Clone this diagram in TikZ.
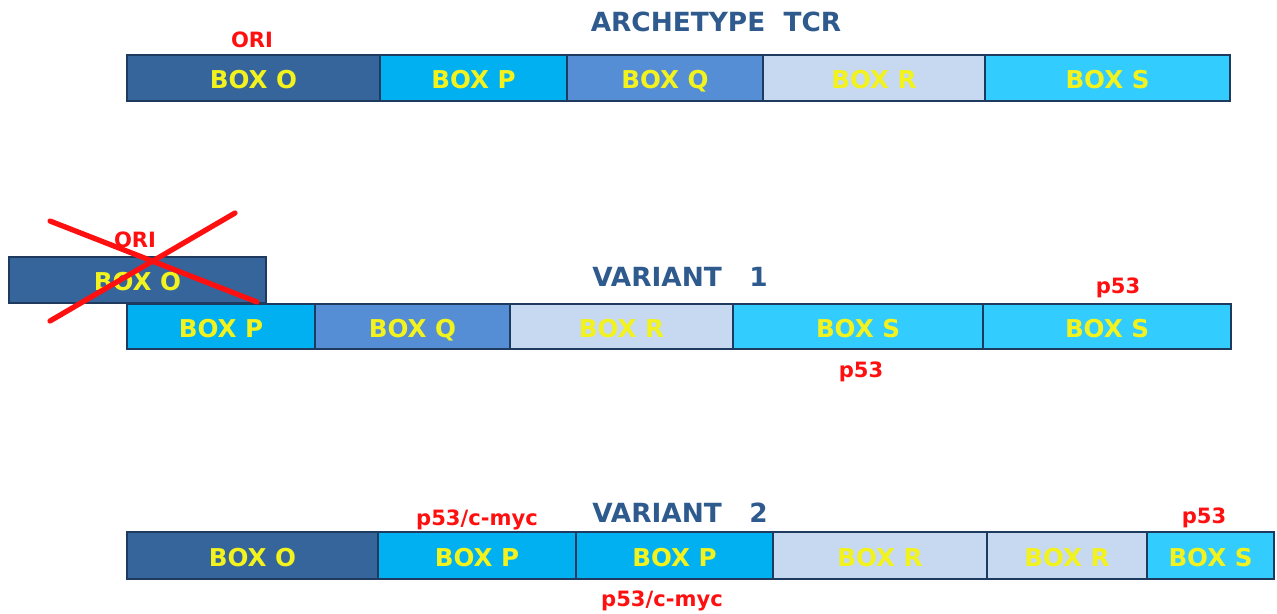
\documentclass[tikz,border=0pt]{standalone}
\usepackage{fontspec}
\setmainfont{DejaVu Sans}
\usetikzlibrary{fit}
\definecolor{boxO}{HTML}{35659A}
\definecolor{boxP}{HTML}{00B0F0}
\definecolor{boxQ}{HTML}{558ED5}
\definecolor{boxR}{HTML}{C6D9F1}
\definecolor{boxS}{HTML}{33CCFF}
\definecolor{edge}{HTML}{1F3A5F}
\definecolor{title}{HTML}{2E5A8E}
\definecolor{lbl}{HTML}{F2F21E}
\definecolor{mark}{HTML}{FF1010}
\tikzset{
  seg/.style={draw=edge, line width=1.1pt, inner sep=0pt},
  segtext/.style={text=lbl, inner sep=0pt, text depth=0pt, font=\fontsize{14}{14}\selectfont\bfseries},
  heading/.style={text=title, font=\fontsize{15}{15}\selectfont\bfseries},
  site/.style={text=mark, font=\fontsize{12}{12}\selectfont\bfseries},
  cross/.style={draw=mark, line width=3pt, line cap=round},
}
% a box spanning two corners, with its label in the middle
\newcommand\boxseg[5]{\node[seg, fill=#2, fit={#3 #4}, label={[segtext, yshift=-1]center:#5}] (#1) {};}
\begin{document}
\begin{tikzpicture}[x=0.02cm, y=-0.02cm]
\useasboundingbox (0,0) rectangle (1277,613);

% archetype
\node[heading] (t0) at (716,22) {ARCHETYPE\ \ TCR};
\node[site] (ori0) at (252,40) {ORI};
\boxseg{a1}{boxO}{(127,55)}{(380,101)}{BOX O}
\boxseg{a2}{boxP}{(380,55)}{(567,101)}{BOX P}
\boxseg{a3}{boxQ}{(567,55)}{(763,101)}{BOX Q}
\boxseg{a4}{boxR}{(763,55)}{(985,101)}{BOX R}
\boxseg{a5}{boxS}{(985,55)}{(1230,101)}{BOX S}

% variant 1
\node[heading] (t1) at (680,277) {VARIANT\ \ \ 1};
\boxseg{b0}{boxO}{(9,257)}{(266,303)}{BOX O}
\node[site] (ori1) at (135,240) {ORI};
\boxseg{b1}{boxP}{(127,304)}{(315,349)}{BOX P}
\boxseg{b2}{boxQ}{(315,304)}{(510,349)}{BOX Q}
\boxseg{b3}{boxR}{(510,304)}{(733,349)}{BOX R}
\boxseg{b4}{boxS}{(733,304)}{(983,349)}{BOX S}
\boxseg{b5}{boxS}{(983,304)}{(1231,349)}{BOX S}
\node[site] (p1a) at (1118,288) {p53};
\node[site] (p1b) at (861,372) {p53};
\coordinate (x1s) at (50,221);
\coordinate (x1e) at (257,302);
\coordinate (x2s) at (50,321);
\coordinate (x2e) at (235,213);
\draw[cross] (x1s) -- (x1e);
\draw[cross] (x2s) -- (x2e);

% variant 2
\node[heading] (t2) at (680,513) {VARIANT\ \ \ 2};
\boxseg{c1}{boxO}{(127,532)}{(378,579)}{BOX O}
\boxseg{c2}{boxP}{(378,532)}{(576,579)}{BOX P}
\boxseg{c3}{boxP}{(576,532)}{(773,579)}{BOX P}
\boxseg{c4}{boxR}{(773,532)}{(987,579)}{BOX R}
\boxseg{c5}{boxR}{(987,532)}{(1147,579)}{BOX R}
\boxseg{c6}{boxS}{(1147,532)}{(1274,579)}{BOX S}
\node[site] (m1) at (477,520) {p53/c-myc};
\node[site] (m2) at (662,601) {p53/c-myc};
\node[site] (p2) at (1204,518) {p53};
\end{tikzpicture}
\end{document}
